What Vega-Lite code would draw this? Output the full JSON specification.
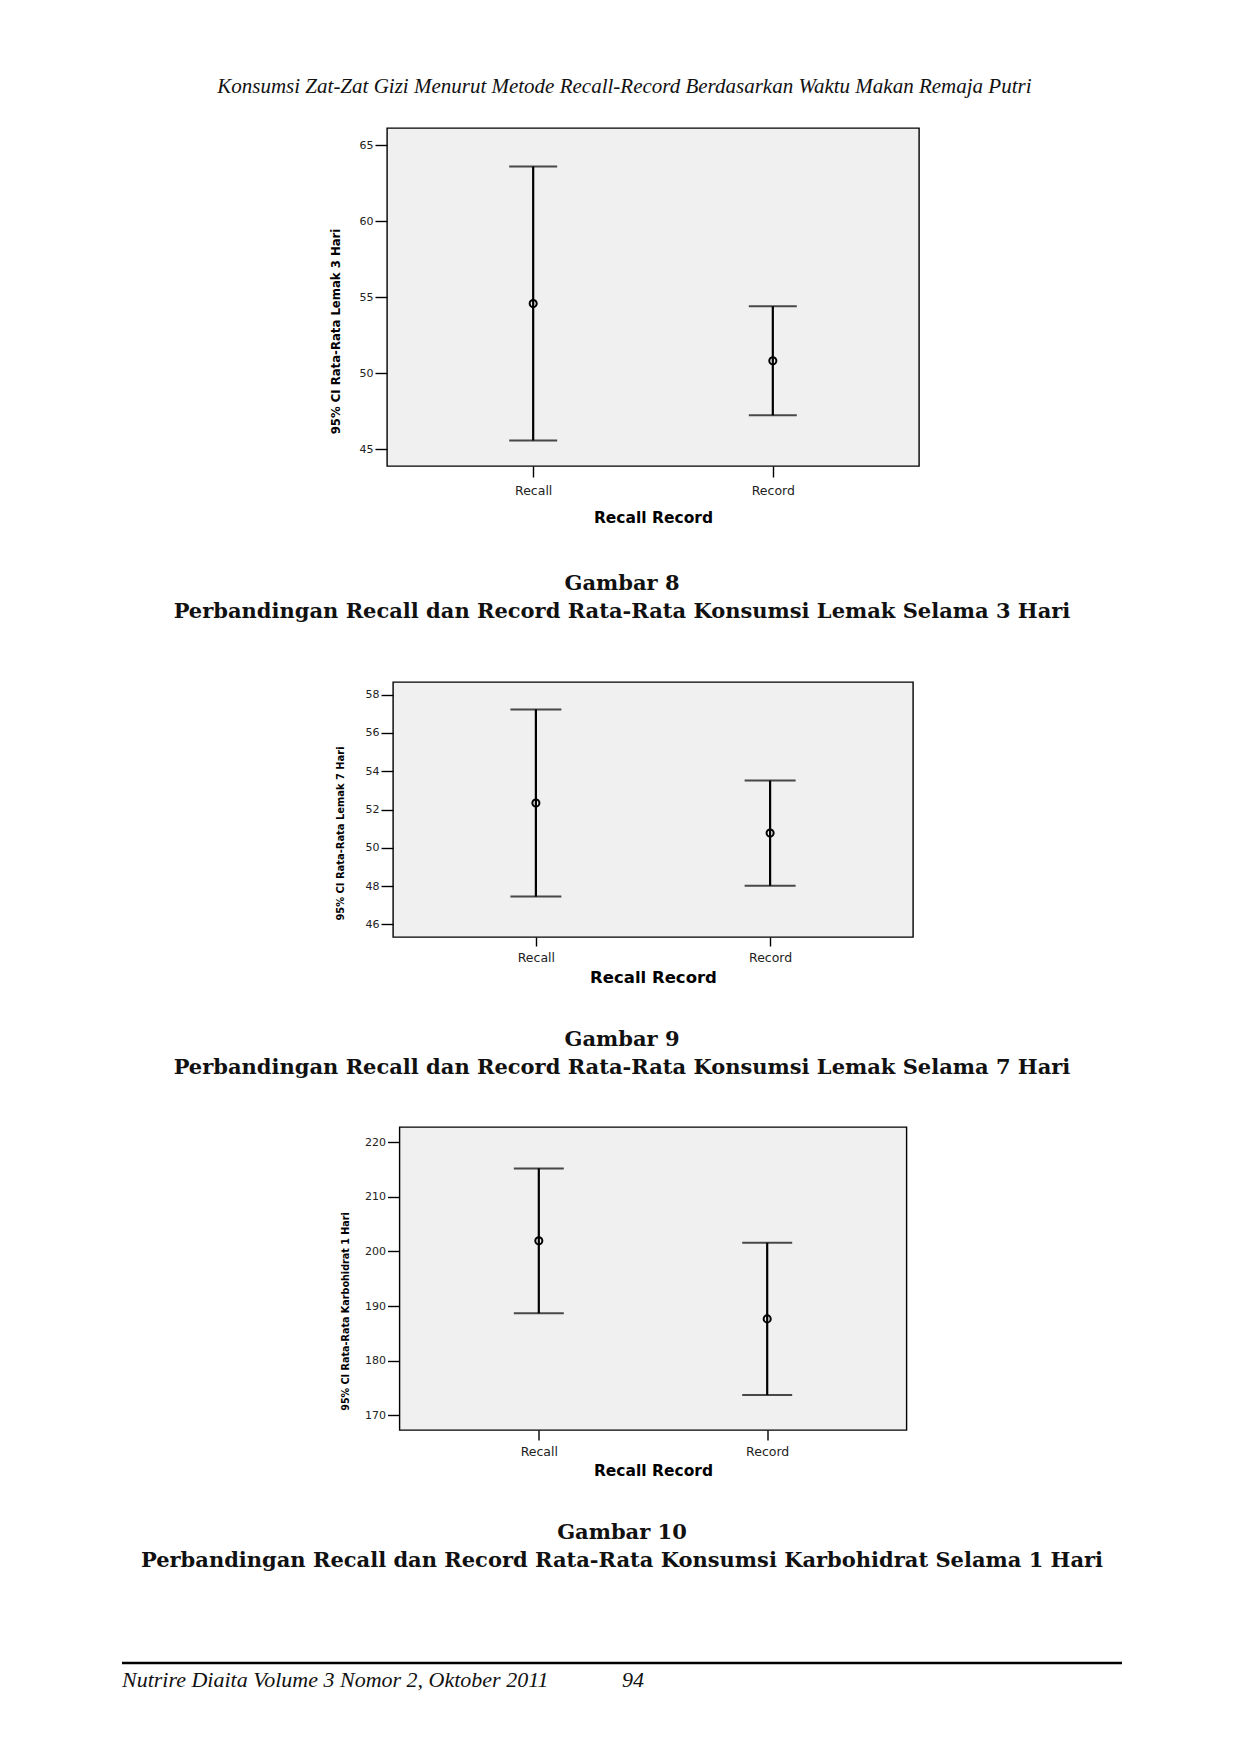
{
  "$schema": "https://vega.github.io/schema/vega-lite/v6.json",
  "background": "white",
  "padding": {"left": 120, "top": 76, "right": 0, "bottom": 0},
  "title": {"text": "Konsumsi Zat-Zat Gizi Menurut Metode Recall-Record Berdasarkan Waktu Makan Remaja Putri", "font": "Liberation Serif", "fontStyle": "italic", "fontWeight": "normal", "fontSize": 21, "anchor": "middle", "offset": 30, "dx": -28, "color": "#111"},
  "spacing": 0,
  "bounds": "flush",
  "center": true,
  "config": {
    "axis": {"grid": false, "domain": false, "tickColor": "#000", "tickWidth": 1.4, "labelFont": "DejaVu Sans", "labelColor": "#222", "titleColor": "#000"},
    "axisX": {"labelFontSize": 12.5, "labelPadding": 5, "labelAngle": 0, "tickSize": 10, "titleFont": "DejaVu Sans", "titleFontSize": 15.5, "titleFontWeight": "bold", "titlePadding": 9},
    "axisY": {"labelFontSize": 11, "labelPadding": 2, "tickSize": 12, "titleFont": "DejaVu Sans Condensed, Liberation Sans", "titleFontWeight": "bold", "titlePadding": 14},
    "title": {"font": "DejaVu Serif", "fontWeight": "bold", "fontSize": 21, "color": "#111", "lineHeight": 28}
  },
  "vconcat": [
    {
      "width": 532, "height": 338,
      "view": {"fill": "#f0f0f0", "stroke": "#000", "strokeWidth": 1.4},
      "title": {"text": ["Gambar 8", "Perbandingan Recall dan Record Rata-Rata Konsumsi Lemak Selama 3 Hari"], "orient": "bottom", "anchor": "middle", "frame": "group", "dx": -31, "offset": 47},
      "data": {"values": [
        {"group": "Recall", "lo": 45.57, "mean": 54.59, "hi": 63.6},
        {"group": "Record", "lo": 47.24, "mean": 50.82, "hi": 54.41}
      ]},
      "encoding": {"x": {"field": "group", "type": "nominal", "sort": null, "scale": {"type": "point", "padding": 0.61}, "axis": {"tickSize": 11, "labelPadding": 7, "titlePadding": 14}, "title": "Recall Record"}},
      "layer": [
        {"mark": {"type": "rule", "color": "#000", "strokeWidth": 2.2},
         "encoding": {"y": {"field": "lo", "type": "quantitative", "scale": {"domain": [43.9, 66.14], "nice": false, "zero": false}, "axis": {"values": [45, 50, 55, 60, 65], "titleFontSize": 13, "titlePadding": 17, "titleY": 203}, "title": "95% CI Rata-Rata Lemak 3 Hari"}, "y2": {"field": "hi"}}},
        {"mark": {"type": "tick", "color": "#000", "thickness": 2, "size": 48},
         "encoding": {"y": {"field": "lo", "type": "quantitative", "title": "95% CI Rata-Rata Lemak 3 Hari"}}},
        {"mark": {"type": "tick", "color": "#000", "thickness": 2, "size": 48},
         "encoding": {"y": {"field": "hi", "type": "quantitative", "title": "95% CI Rata-Rata Lemak 3 Hari"}}},
        {"mark": {"type": "point", "filled": false, "stroke": "#000", "strokeWidth": 2, "size": 50, "opacity": 1},
         "encoding": {"y": {"field": "mean", "type": "quantitative", "title": "95% CI Rata-Rata Lemak 3 Hari"}}}
      ]
    },
    {"width": 1, "height": 216, "view": {"stroke": null, "fill": null}, "data": {"values": []}, "mark": "point"},
    {
      "width": 520, "height": 255,
      "view": {"fill": "#f0f0f0", "stroke": "#000", "strokeWidth": 1.4},
      "title": {"text": ["Gambar 9", "Perbandingan Recall dan Record Rata-Rata Konsumsi Lemak Selama 7 Hari"], "orient": "bottom", "anchor": "middle", "frame": "group", "dx": -31, "offset": 43},
      "data": {"values": [
        {"group": "Recall", "lo": 47.45, "mean": 52.34, "hi": 57.23},
        {"group": "Record", "lo": 48.02, "mean": 50.77, "hi": 53.51}
      ]},
      "encoding": {"x": {"field": "group", "type": "nominal", "sort": null, "scale": {"type": "point", "padding": 0.61}, "axis": {"tickSize": 9, "titleFontSize": 16.5, "titlePadding": 6}, "title": "Recall Record"}},
      "layer": [
        {"mark": {"type": "rule", "color": "#000", "strokeWidth": 2.2},
         "encoding": {"y": {"field": "lo", "type": "quantitative", "scale": {"domain": [45.34, 58.66], "nice": false, "zero": false}, "axis": {"values": [46, 48, 50, 52, 54, 56, 58], "titleFontSize": 11, "titlePadding": 20, "titleY": 151}, "title": "95% CI Rata-Rata Lemak 7 Hari"}, "y2": {"field": "hi"}}},
        {"mark": {"type": "tick", "color": "#000", "thickness": 2, "size": 51},
         "encoding": {"y": {"field": "lo", "type": "quantitative", "title": "95% CI Rata-Rata Lemak 7 Hari"}}},
        {"mark": {"type": "tick", "color": "#000", "thickness": 2, "size": 51},
         "encoding": {"y": {"field": "hi", "type": "quantitative", "title": "95% CI Rata-Rata Lemak 7 Hari"}}},
        {"mark": {"type": "point", "filled": false, "stroke": "#000", "strokeWidth": 2, "size": 50, "opacity": 1},
         "encoding": {"y": {"field": "mean", "type": "quantitative", "title": "95% CI Rata-Rata Lemak 7 Hari"}}}
      ]
    },
    {"width": 1, "height": 190, "view": {"stroke": null, "fill": null}, "data": {"values": []}, "mark": "point"},
    {
      "width": 507, "height": 303,
      "view": {"fill": "#f0f0f0", "stroke": "#000", "strokeWidth": 1.4},
      "title": {"text": ["Gambar 10", "Perbandingan Recall dan Record Rata-Rata Konsumsi Karbohidrat Selama 1 Hari"], "orient": "bottom", "anchor": "middle", "frame": "group", "dx": -31, "offset": 43},
      "data": {"values": [
        {"group": "Recall", "lo": 188.68, "mean": 201.94, "hi": 215.18},
        {"group": "Record", "lo": 173.73, "mean": 187.65, "hi": 201.57}
      ]},
      "encoding": {"x": {"field": "group", "type": "nominal", "sort": null, "scale": {"type": "point", "padding": 0.61}, "axis": {"tickSize": 10, "titlePadding": 6}, "title": "Recall Record"}},
      "layer": [
        {"mark": {"type": "rule", "color": "#000", "strokeWidth": 2.2},
         "encoding": {"y": {"field": "lo", "type": "quantitative", "scale": {"domain": [167.33, 222.75], "nice": false, "zero": false}, "axis": {"values": [170, 180, 190, 200, 210, 220], "titleFontSize": 10.7, "titlePadding": 14, "titleY": 184}, "title": "95% CI Rata-Rata Karbohidrat 1 Hari"}, "y2": {"field": "hi"}}},
        {"mark": {"type": "tick", "color": "#000", "thickness": 2, "size": 50},
         "encoding": {"y": {"field": "lo", "type": "quantitative", "title": "95% CI Rata-Rata Karbohidrat 1 Hari"}}},
        {"mark": {"type": "tick", "color": "#000", "thickness": 2, "size": 50},
         "encoding": {"y": {"field": "hi", "type": "quantitative", "title": "95% CI Rata-Rata Karbohidrat 1 Hari"}}},
        {"mark": {"type": "point", "filled": false, "stroke": "#000", "strokeWidth": 2, "size": 50, "opacity": 1},
         "encoding": {"y": {"field": "mean", "type": "quantitative", "title": "95% CI Rata-Rata Karbohidrat 1 Hari"}}}
      ]
    },
    {"width": 1, "height": 232, "view": {"stroke": null, "fill": null}, "data": {"values": []}, "mark": "point"},
    {
      "width": 1062, "height": 2,
      "view": {"stroke": null, "fill": null},
      "data": {"values": [{"t": "Nutrire Diaita Volume 3 Nomor 2, Oktober 2011"}, {"t": "94"}]},
      "mark": {"type": "rule", "color": "#000", "strokeWidth": 2.5},
      "encoding": {
        "x": {"field": "t", "type": "nominal", "sort": null, "bandPosition": 0, "scale": {"type": "band", "paddingInner": 0, "paddingOuter": 0.062, "align": 0}, "axis": null},
        "x2": {"field": "t", "bandPosition": 1}
      }
    },
    {
      "width": 1062, "height": 32,
      "view": {"stroke": null, "fill": null},
      "data": {"values": [{"t": "Nutrire Diaita Volume 3 Nomor 2, Oktober 2011"}, {"t": "94"}]},
      "mark": {"type": "text", "align": "left", "baseline": "middle", "font": "Liberation Serif", "fontStyle": "italic", "fontSize": 22, "color": "#111"},
      "encoding": {
        "x": {"field": "t", "type": "nominal", "sort": null, "bandPosition": 0, "scale": {"type": "band", "paddingInner": 0, "paddingOuter": 0.062, "align": 0}, "axis": null},
        "text": {"field": "t"}
      }
    }
  ]
}
